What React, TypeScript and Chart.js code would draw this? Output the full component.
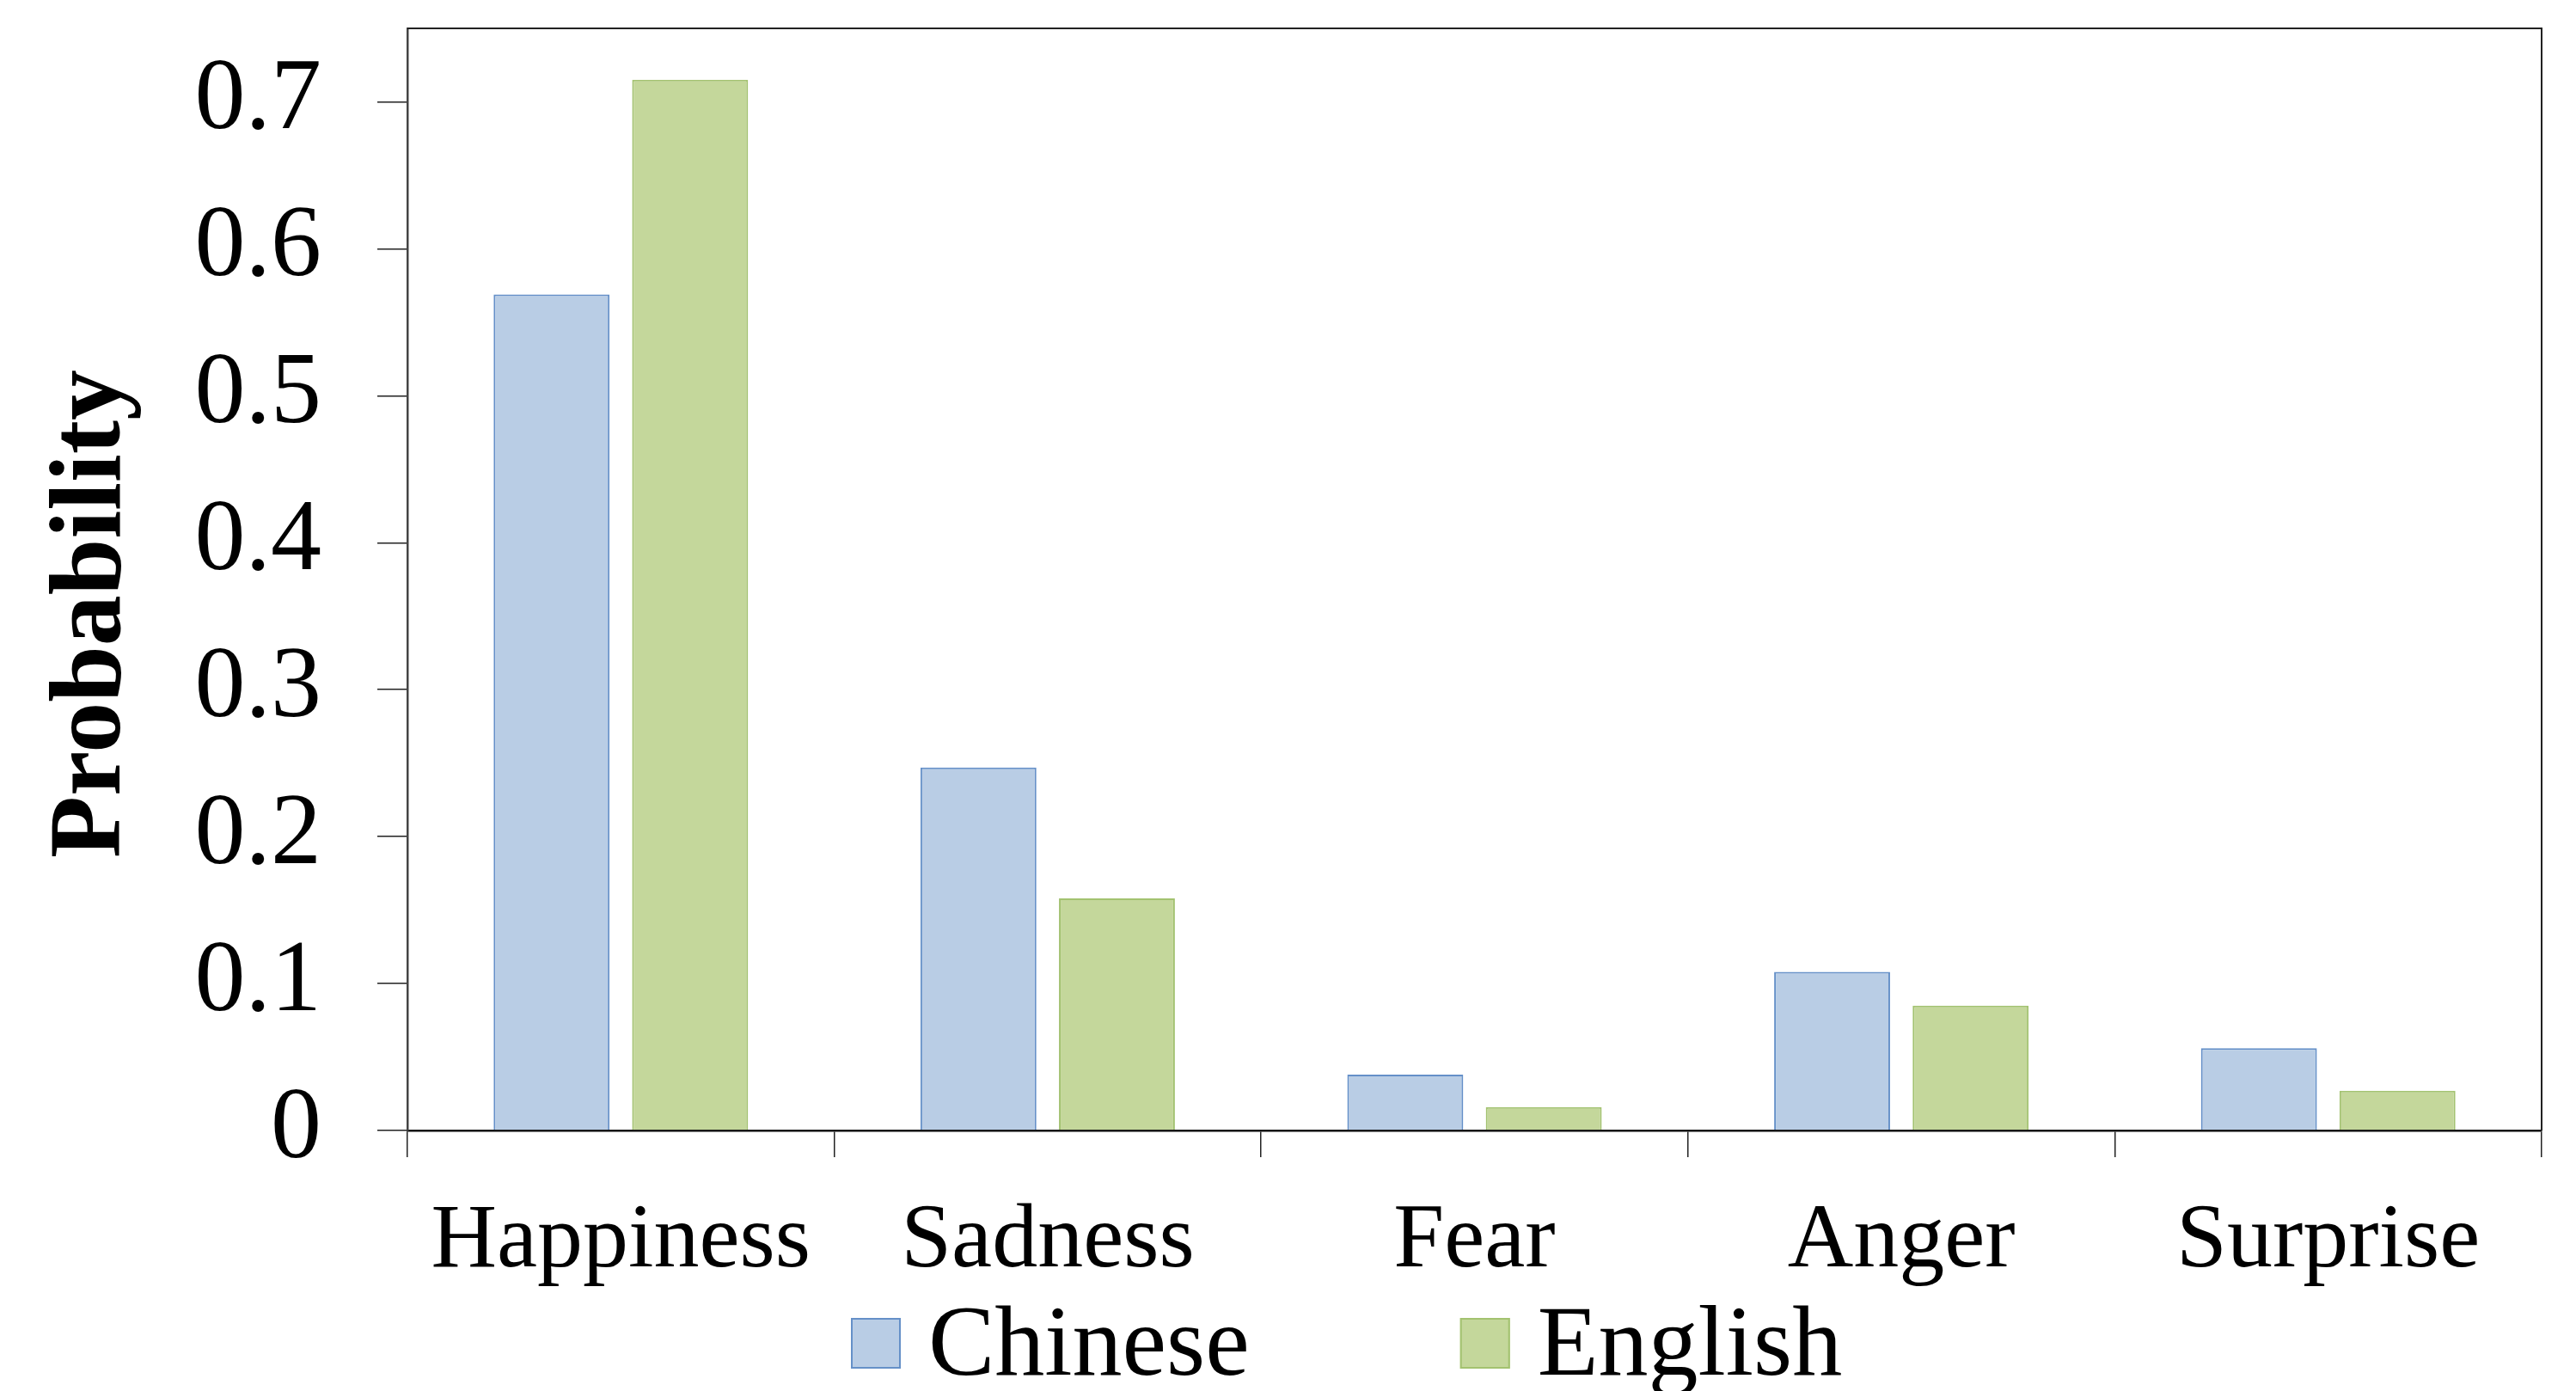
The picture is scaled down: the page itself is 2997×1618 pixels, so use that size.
import React, { useEffect, useRef } from "react";
import { Chart, registerables } from "chart.js";

Chart.register(...registerables);

const categories = ["Happiness", "Sadness", "Fear", "Anger", "Surprise"];
const seriesNames = ["Chinese", "English"];
const chineseValues = [0.569, 0.247, 0.038, 0.108, 0.056];
const englishValues = [0.715, 0.158, 0.016, 0.085, 0.027];
const yAxisTitle = "Probability";

const FONT = '"Liberation Serif", "Times New Roman", serif';

const framePlugin = {
  id: "frameLines",
  afterDraw(chart: any) {
    const { ctx, chartArea } = chart;
    const { left, top, right, bottom } = chartArea;
    ctx.save();
    ctx.strokeStyle = "#222";
    ctx.lineWidth = 2;
    ctx.beginPath();
    ctx.moveTo(left, top);
    ctx.lineTo(right, top);
    ctx.lineTo(right, bottom);
    ctx.stroke();
    ctx.restore();
  },
};

const yTitlePlugin = {
  id: "yTitle",
  afterDraw(chart: any) {
    const ctx = chart.ctx;
    ctx.save();
    ctx.translate(109, 714);
    ctx.rotate(-Math.PI / 2);
    ctx.font = `bold 118px ${FONT}`;
    ctx.fillStyle = "#000";
    ctx.textAlign = "center";
    ctx.textBaseline = "middle";
    ctx.fillText(yAxisTitle, 0, 0);
    ctx.restore();
  },
};

const legendPlugin = {
  id: "bottomLegend",
  afterDraw(chart: any) {
    const ctx = chart.ctx;
    const boxW = 58;
    const boxH = 59;
    const boxTop = 1533;
    const textBase = 1599;
    const gap = 32;
    const itemSpacing = 245;
    let x = 990;
    ctx.save();
    ctx.font = `116px ${FONT}`;
    ctx.textBaseline = "alphabetic";
    ctx.textAlign = "left";
    chart.data.datasets.forEach((ds: any) => {
      ctx.fillStyle = ds.backgroundColor;
      ctx.fillRect(x, boxTop, boxW, boxH);
      ctx.strokeStyle = ds.borderColor;
      ctx.lineWidth = 2;
      ctx.strokeRect(x + 1, boxTop + 1, boxW - 2, boxH - 2);
      ctx.fillStyle = "#000";
      const tx = x + boxW + gap;
      ctx.fillText(ds.label, tx, textBase);
      x = tx + ctx.measureText(ds.label).width + itemSpacing;
    });
    ctx.restore();
  },
};

export default function App() {
  const canvasRef = useRef<HTMLCanvasElement | null>(null);

  useEffect(() => {
    if (!canvasRef.current) return;
    const chart = new Chart(canvasRef.current, {
      type: "bar",
      data: {
        labels: categories,
        datasets: [
          {
            label: seriesNames[0],
            data: chineseValues,
            backgroundColor: "#B9CDE5",
            borderColor: "#6590C8",
            borderWidth: 2,
            categoryPercentage: 0.649,
            barPercentage: 0.837,
          },
          {
            label: seriesNames[1],
            data: englishValues,
            backgroundColor: "#C4D79B",
            borderColor: "#A3C270",
            borderWidth: 2,
            categoryPercentage: 0.649,
            barPercentage: 0.837,
          },
        ],
      },
      options: {
        animation: false,
        responsive: true,
        maintainAspectRatio: false,
        layout: { padding: { top: 33, right: 40, bottom: 0, left: 0 } },
        plugins: {
          legend: { display: false },
          tooltip: { enabled: false },
        },
        scales: {
          x: {
            offset: true,
            grid: {
              offset: true,
              drawOnChartArea: false,
              drawTicks: true,
              tickLength: 31,
              color: "#222",
              lineWidth: 1.5,
            },
            border: { display: true, color: "#111", width: 2.5 },
            ticks: {
              color: "#000",
              font: { family: FONT, size: 106 },
              padding: 36,
              maxRotation: 0,
              autoSkip: false,
            },
            afterFit: (scale: any) => {
              scale.height = 303;
              scale.paddingLeft = 0;
              scale.paddingRight = 0;
            },
          },
          y: {
            min: 0,
            max: 0.75,
            grid: {
              drawOnChartArea: false,
              drawTicks: true,
              tickLength: 35,
              color: "#222",
              lineWidth: 1.5,
            },
            border: { display: true, color: "#444", width: 2.5 },
            ticks: {
              stepSize: 0.1,
              includeBounds: false,
              color: "#000",
              font: { family: FONT, size: 118 },
              padding: 65,
              callback: (v: any) => (Number(v) === 0 ? "0" : Number(v).toFixed(1)),
            },
            title: { display: false, text: yAxisTitle },
            afterFit: (scale: any) => {
              scale.width = 474;
              scale.paddingTop = 0;
              scale.paddingBottom = 0;
            },
          },
        },
      },
      plugins: [framePlugin, yTitlePlugin, legendPlugin],
    });
    return () => chart.destroy();
  }, []);

  return (
    <div
      style={{
        position: "fixed",
        left: 0,
        top: 0,
        width: "2997px",
        height: "1618px",
        background: "#fff",
      }}
    >
      <canvas ref={canvasRef} />
    </div>
  );
}
